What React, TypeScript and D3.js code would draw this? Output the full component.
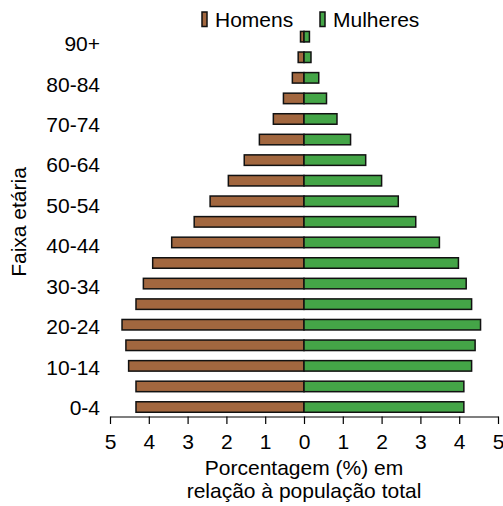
import React, { useRef, useEffect } from "react";
import * as d3 from "d3";

// age groups, bottom to top
const groups = [
  "0-4", "5-9", "10-14", "15-19", "20-24", "25-29", "30-34", "35-39", "40-44",
  "45-49", "50-54", "55-59", "60-64", "65-69", "70-74", "75-79", "80-84", "85-89", "90+",
];
const homens = [
  4.33, 4.33, 4.52, 4.59, 4.69, 4.33, 4.14, 3.9, 3.41, 2.83, 2.42, 1.95, 1.54, 1.15,
  0.79, 0.53, 0.3, 0.15, 0.09,
];
const mulheres = [
  4.12, 4.12, 4.32, 4.41, 4.55, 4.32, 4.18, 3.98, 3.49, 2.88, 2.43, 2.0, 1.59, 1.2,
  0.85, 0.58, 0.38, 0.18, 0.14,
];
const yLabels = ["0-4", "10-14", "20-24", "30-34", "40-44", "50-54", "60-64", "70-74", "80-84", "90+"];
const xTicks = [-5, -4, -3, -2, -1, 0, 1, 2, 3, 4, 5];

const width = 503;
const height = 506;
const FONT = "'Liberation Sans', Arial, sans-serif";
const FS = 21;
const BROWN = "#a2673f";
const GREEN = "#44a547";

const App = () => {
  const svgRef = useRef(null);

  useEffect(() => {
    const svg = d3.select(svgRef.current);
    svg.selectAll("*").remove();

    const x = d3.scaleLinear().domain([-5, 5]).range([110, 498]);
    const y = d3
      .scaleBand()
      .domain(groups.slice().reverse())
      .range([26.4, 417.3])
      .paddingInner(0.49)
      .paddingOuter(0.245);
    // tick labels sit on their own slightly tighter spacing
    const yl = d3.scalePoint().domain(yLabels).range([407.5, 43.5]);

    const data = groups.map((g, i) => ({ g, m: homens[i], f: mulheres[i] }));

    const bars = svg.append("g");
    bars
      .selectAll("rect.m")
      .data(data)
      .enter()
      .append("rect")
      .attr("class", "m")
      .attr("x", (d) => x(-d.m))
      .attr("y", (d) => y(d.g))
      .attr("width", (d) => x(0) - x(-d.m))
      .attr("height", y.bandwidth())
      .attr("fill", BROWN)
      .attr("stroke", "#111")
      .attr("stroke-width", 1.5);
    bars
      .selectAll("rect.f")
      .data(data)
      .enter()
      .append("rect")
      .attr("class", "f")
      .attr("x", x(0))
      .attr("y", (d) => y(d.g))
      .attr("width", (d) => x(d.f) - x(0))
      .attr("height", y.bandwidth())
      .attr("fill", GREEN)
      .attr("stroke", "#111")
      .attr("stroke-width", 1.5);

    // x axis
    const xAxis = svg
      .append("g")
      .attr("transform", "translate(0,416.5)")
      .call(
        d3
          .axisBottom(x)
          .tickValues(xTicks)
          .tickSize(7.5)
          .tickSizeOuter(0)
          .tickFormat((d) => String(Math.abs(d)))
      );
    xAxis.select(".domain").attr("stroke", "#000").attr("stroke-width", 1.2);
    xAxis.selectAll(".tick line").attr("stroke", "#000").attr("stroke-width", 1.2);
    xAxis
      .selectAll(".tick text")
      .attr("font-family", FONT)
      .attr("font-size", FS)
      .attr("fill", "#000")
      .attr("y", 32.5)
      .attr("dy", "0");

    // y labels
    svg
      .append("g")
      .selectAll("text")
      .data(yLabels)
      .enter()
      .append("text")
      .attr("x", 100)
      .attr("y", (d) => yl(d))
      .attr("dy", "0.36em")
      .attr("text-anchor", "end")
      .attr("font-family", FONT)
      .attr("font-size", FS)
      .text((d) => d);

    // axis titles
    svg
      .append("text")
      .attr("transform", "translate(25.5,222) rotate(-90)")
      .attr("text-anchor", "middle")
      .attr("font-family", FONT)
      .attr("font-size", FS)
      .text("Faixa etária");
    const xt = svg
      .append("text")
      .attr("text-anchor", "middle")
      .attr("font-family", FONT)
      .attr("font-size", FS);
    xt.append("tspan").attr("x", 304).attr("y", 474.5).text("Porcentagem (%) em");
    xt.append("tspan").attr("x", 304).attr("y", 497.5).text("relação à população total");

    // legend
    const legend = [
      { name: "Homens", color: BROWN, x: 202 },
      { name: "Mulheres", color: GREEN, x: 320 },
    ];
    const lg = svg
      .append("g")
      .selectAll("g")
      .data(legend)
      .enter()
      .append("g")
      .attr("transform", (d) => `translate(${d.x},0)`);
    lg.append("rect")
      .attr("x", 0)
      .attr("y", 12)
      .attr("width", 5)
      .attr("height", 14.5)
      .attr("fill", (d) => d.color)
      .attr("stroke", "#111")
      .attr("stroke-width", 1.5);
    lg.append("text")
      .attr("x", 13)
      .attr("y", 27)
      .attr("font-family", FONT)
      .attr("font-size", FS)
      .text((d) => d.name);
  }, []);

  return (
    <svg
      ref={svgRef}
      width={width}
      height={height}
      style={{ position: "absolute", left: 0, top: 0, background: "#fff" }}
    />
  );
};

export default App;
